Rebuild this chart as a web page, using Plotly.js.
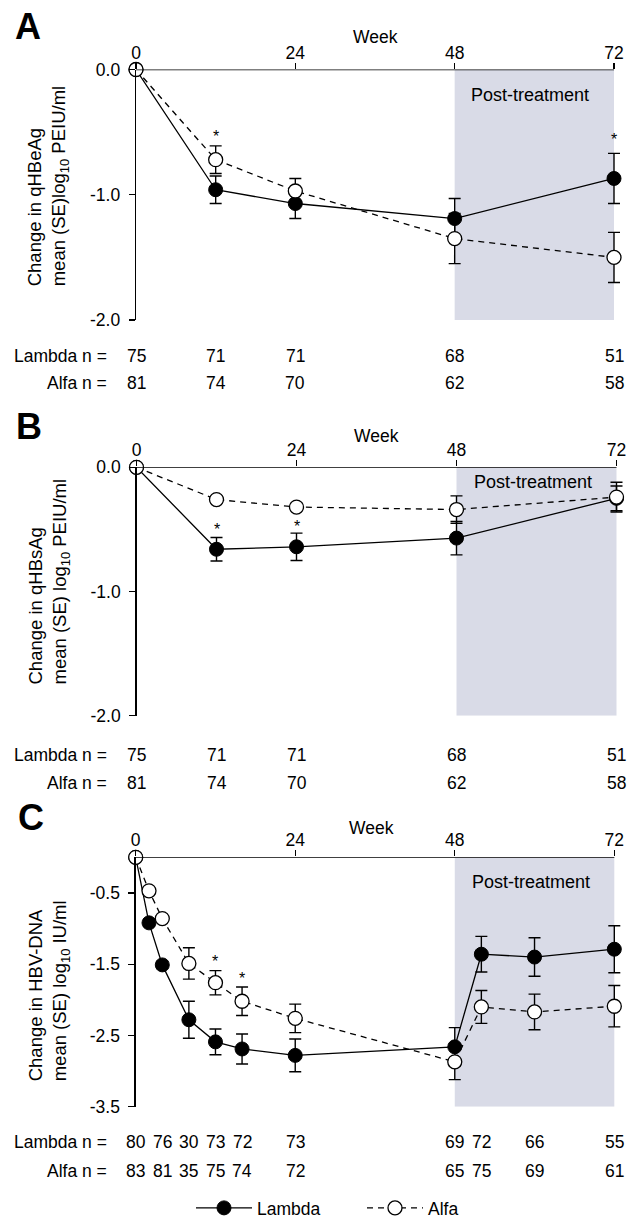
<!DOCTYPE html>
<html>
<head>
<meta charset="utf-8">
<script src="https://cdn.plot.ly/plotly-3.0.1.min.js"></script>
<style>
html,body{margin:0;padding:0;background:#fff;overflow:hidden}
#chart{width:630px;height:1218px}
</style>
</head>
<body>
<div id="chart"></div>
<script>
// ---------------- data ----------------
const weeksAB = [0, 12, 24, 48, 72];

const lambdaA = [0, -0.96, -1.07, -1.19, -0.87];
const lambdaA_se = [0, 0.11, 0.12, 0.16, 0.20];
const alfaA = [0, -0.72, -0.97, -1.35, -1.50];
const alfaA_se = [0, 0.11, 0.10, 0.20, 0.20];

const lambdaB = [0, -0.66, -0.64, -0.57, -0.25];
const lambdaB_se = [0, 0.095, 0.11, 0.135, 0.10];
const alfaB = [0, -0.26, -0.32, -0.34, -0.24];
const alfaB_se = [0, 0.03, 0.03, 0.11, 0.12];

const weeksC = [0, 2, 4, 8, 12, 16, 24, 48, 52, 60, 72];
const lambdaC = [0, -0.92, -1.51, -2.28, -2.59, -2.69, -2.78, -2.66, -1.36, -1.40, -1.29];
const lambdaC_se = [0, 0.05, 0.05, 0.26, 0.18, 0.21, 0.23, 0.27, 0.25, 0.27, 0.33];
const alfaC = [0, -0.47, -0.86, -1.49, -1.76, -2.02, -2.26, -2.87, -2.10, -2.17, -2.09];
const alfaC_se = [0, 0.03, 0.04, 0.22, 0.17, 0.20, 0.20, 0.25, 0.23, 0.25, 0.29];

// n at risk rows
const nWeeksAB = [0, 12, 24, 48, 72];
const nLambdaAB = [75, 71, 71, 68, 51];
const nAlfaAB = [81, 74, 70, 62, 58];
const nWeeksC = [0, 4, 8, 12, 16, 24, 48, 52, 60, 72];
const nLambdaC = [80, 76, 30, 73, 72, 73, 69, 72, 66, 55];
const nAlfaC = [83, 81, 35, 75, 74, 72, 65, 75, 69, 61];

// significance markers (week, y)
const starA_x = [12, 72], starA_y = [-0.505, -0.53];
const starB_x = [12, 24], starB_y = [-0.465, -0.446];
const starC_x = [12, 16], starC_y = [-1.40, -1.64];

// axis ticks
const weekSpan = [0, 72];
const xTickVals = [0, 24, 48, 72];
const xTickText = ['0', '24', '48', '72'];
const yTickValsAB = [0, -1, -2];
const yTickTextAB = ['0.0', '-1.0', '-2.0'];
const yTickValsC = [-0.5, -1.5, -2.5, -3.5];
const yTickTextC = ['-0.5', '-1.5', '-2.5', '-3.5'];

const postTreatment = [48, 72];
const panelLetters = ['A', 'B', 'C'];
const yTitles = [
  'Change in qHBeAg<br>mean (SE)log<sub>10</sub> PEIU/ml',
  'Change in qHBsAg<br>mean (SE) log<sub>10</sub> PEIU/ml',
  'Change in HBV-DNA<br>mean (SE) log<sub>10</sub> IU/ml'
];
const seriesNames = ['Lambda', 'Alfa'];

// ---------------- styling ----------------
const W = 630, H = 1218;
const FONT = 'Liberation Sans, Arial, Helvetica, sans-serif';
const fs = 17.5;
const pad = 1.2;               // extra weeks to the right so caps at week 72 are not clipped
const py = v => 1 - v / H;     // pixel-from-top -> paper
const px = v => v / W;

const panels = [
  {xd: [136, 614], yd: [69.5, 320], yr: [-2, 0], tv: yTickValsAB, tt: yTickTextAB,
   letter: [28.3, 26.7], week: [36, 37.5], post: -0.204, ytBottom: 288, ytX: 48.3,
   nRows: [356, 383], nW: nWeeksAB, nL: nLambdaAB, nA: nAlfaAB,
   sx: starA_x, sy: starA_y, wk: weeksAB, l: lambdaA, ls: lambdaA_se, a: alfaA, as: alfaA_se},
  {xd: [136.5, 616.5], yd: [467.3, 715.7], yr: [-2, 0], tv: yTickValsAB, tt: yTickTextAB,
   letter: [29, 426], week: [36, 436], post: -0.122, ytBottom: 686.7, ytX: 48.8,
   nRows: [755, 783.3], nW: nWeeksAB, nL: nLambdaAB, nA: nAlfaAB,
   sx: starB_x, sy: starB_y, wk: weeksAB, l: lambdaB, ls: lambdaB_se, a: alfaB, as: alfaB_se},
  {xd: [135.7, 614.3], yd: [857.3, 1106.7], yr: [-3.5, 0], tv: yTickValsC, tt: yTickTextC,
   letter: [30.5, 817.5], week: [35.4, 828], post: -0.34, ytBottom: 1083.3, ytX: 48.5,
   nRows: [1142.3, 1170.7], nW: nWeeksC, nL: nLambdaC, nA: nAlfaC,
   sx: starC_x, sy: starC_y, wk: weeksC, l: lambdaC, ls: lambdaC_se, a: alfaC, as: alfaC_se}
];

const traces = [];
const annotations = [];
const shapes = [];
const layout = {
  width: W, height: H,
  margin: {l: 0, r: 0, t: 0, b: 0, autoexpand: false},
  paper_bgcolor: '#fff', plot_bgcolor: 'rgba(0,0,0,0)',
  font: {family: FONT, size: fs, color: '#000'},
  showlegend: true,
  legend: {
    orientation: 'h', x: px(191), xanchor: 'left', y: -8 / H, yanchor: 'bottom',
    font: {family: FONT, size: fs, color: '#000'},
    itemwidth: 56, entrywidth: 100, entrywidthmode: 'pixels',
    bgcolor: 'rgba(0,0,0,0)', borderwidth: 0, tracegroupgap: 0
  },
  annotations: annotations,
  shapes: shapes
};

panels.forEach((p, i) => {
  const sfx = i === 0 ? '' : String(i + 1);
  const xa = 'x' + sfx, ya = 'y' + sfx;
  const pxPerWeek = (p.xd[1] - p.xd[0]) / (weekSpan[1] - weekSpan[0]);
  layout['xaxis' + sfx] = {
    domain: [px(p.xd[0]), px(p.xd[1] + pad * pxPerWeek)], range: [weekSpan[0], weekSpan[1] + pad], anchor: ya, side: 'top',
    tickmode: 'array', tickvals: xTickVals, ticktext: xTickText,
    showline: false,
    ticks: 'outside', ticklen: 6, tickwidth: 1.3, tickcolor: '#000',
    showgrid: false, zeroline: false, fixedrange: true,
    tickfont: {family: FONT, size: fs, color: '#000'}, ticklabelstandoff: -3
  };
  layout['yaxis' + sfx] = {
    domain: [py(p.yd[1]), py(p.yd[0])], range: p.yr, anchor: xa,
    tickmode: 'array', tickvals: p.tv, ticktext: p.tt,
    showline: true, linecolor: '#000', linewidth: 1.3,
    ticks: 'outside', ticklen: 6, tickwidth: 1.3, tickcolor: '#000',
    showgrid: false, zeroline: false, fixedrange: true,
    tickfont: {family: FONT, size: fs, color: '#000'}, ticklabelstandoff: 5
  };

  shapes.push({type: 'rect', xref: xa, yref: ya, x0: postTreatment[0], x1: postTreatment[1],
    y0: p.yr[0], y1: p.yr[1], fillcolor: '#d9dbe7', line: {width: 0}, layer: 'below'});
  // top week axis line, spanning weeks 0..72 only
  shapes.push({type: 'line', xref: xa, yref: ya, x0: weekSpan[0], x1: weekSpan[1],
    y0: p.yr[1], y1: p.yr[1], line: {color: '#000', width: 1.3}, layer: 'above'});

  // Lambda
  traces.push({
    type: 'scatter', mode: 'lines+markers', name: seriesNames[0], xaxis: xa, yaxis: ya,
    x: p.wk, y: p.l, cliponaxis: false, showlegend: i === 2, legendrank: 1,
    line: {color: '#000', width: 1.3, dash: 'solid'},
    marker: {symbol: 'circle', size: 14, color: '#000', line: {color: '#000', width: 1}},
    error_y: {type: 'data', array: p.ls, visible: true, color: '#000', thickness: 1.4, width: 6}
  });
  // Alfa
  traces.push({
    type: 'scatter', mode: 'lines+markers', name: seriesNames[1], xaxis: xa, yaxis: ya,
    x: p.wk, y: p.a, cliponaxis: false, showlegend: i === 2, legendrank: 2,
    line: {color: '#000', width: 1.3, dash: '6px,5px'},
    marker: {symbol: 'circle', size: 14, color: '#fff', line: {color: '#000', width: 1.3}},
    error_y: {type: 'data', array: p.as, visible: true, color: '#000', thickness: 1.4, width: 6}
  });

  // panel letter
  annotations.push({xref: 'paper', yref: 'paper', x: px(p.letter[0]), y: py(p.letter[1]),
    xanchor: 'center', yanchor: 'middle', showarrow: false, text: '<b>' + panelLetters[i] + '</b>',
    font: {family: FONT, size: 36, color: '#000'}});
  // Week title
  annotations.push({xref: xa, yref: 'paper', x: p.week[0], y: py(p.week[1]),
    xanchor: 'center', yanchor: 'middle', showarrow: false, text: 'Week',
    font: {family: FONT, size: fs, color: '#000'}});
  // Post-treatment
  annotations.push({xref: xa, yref: ya, x: 59.4, y: p.post,
    xanchor: 'center', yanchor: 'middle', showarrow: false, text: 'Post-treatment',
    font: {family: FONT, size: 18, color: '#000'}});
  // y title
  annotations.push({xref: 'paper', yref: 'paper', x: px(p.ytX), y: py(p.ytBottom),
    xanchor: 'center', yanchor: 'bottom', showarrow: false, textangle: -90, align: 'left',
    text: yTitles[i], font: {family: FONT, size: 18.5, color: '#000'}});
  // asterisks
  p.sx.forEach((sx, k) => {
    annotations.push({xref: xa, yref: ya, x: sx, y: p.sy[k], xanchor: 'center', yanchor: 'middle',
      yshift: -4, showarrow: false, text: '*', font: {family: FONT, size: 16, color: '#000'}});
  });
  // n rows
  annotations.push({xref: 'paper', yref: 'paper', x: px(108.5), y: py(p.nRows[0]),
    xanchor: 'right', yanchor: 'middle', showarrow: false, text: 'Lambda n =',
    font: {family: FONT, size: fs, color: '#000'}});
  annotations.push({xref: 'paper', yref: 'paper', x: px(108.5), y: py(p.nRows[1]),
    xanchor: 'right', yanchor: 'middle', showarrow: false, text: 'Alfa n =',
    font: {family: FONT, size: fs, color: '#000'}});
  p.nW.forEach((w, k) => {
    annotations.push({xref: xa, yref: 'paper', x: w, y: py(p.nRows[0]), xanchor: 'center', yanchor: 'middle',
      showarrow: false, text: String(p.nL[k]), font: {family: FONT, size: fs, color: '#000'}});
    annotations.push({xref: xa, yref: 'paper', x: w, y: py(p.nRows[1]), xanchor: 'center', yanchor: 'middle',
      showarrow: false, text: String(p.nA[k]), font: {family: FONT, size: fs, color: '#000'}});
  });
});

Plotly.newPlot('chart', traces, layout, {displayModeBar: false, staticPlot: true});
</script>
</body>
</html>
